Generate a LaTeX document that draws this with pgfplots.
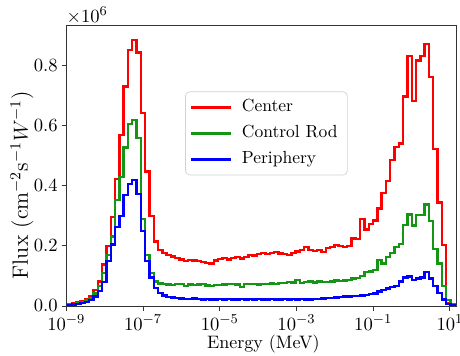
\documentclass[border=0pt]{standalone}
\usepackage{pgfplots}
\pgfplotsset{compat=1.18}
\usepackage{pgfplotstable}

\definecolor{mgreen}{RGB}{20,150,20}

% lx = log10(E / MeV) of the left bin edge; c = Center, r = Control Rod, p = Periphery (x 10^6)
\pgfplotstableread{
lx c r p
-9.075 0.004 0.003 0.002
-8.963 0.006 0.005 0.003
-8.851 0.009 0.007 0.005
-8.739 0.012 0.010 0.007
-8.626 0.016 0.014 0.010
-8.514 0.022 0.018 0.014
-8.402 0.033 0.026 0.020
-8.290 0.053 0.042 0.032
-8.178 0.081 0.067 0.050
-8.066 0.138 0.109 0.080
-7.954 0.200 0.170 0.150
-7.842 0.297 0.231 0.205
-7.730 0.423 0.353 0.262
-7.618 0.569 0.430 0.300
-7.505 0.730 0.528 0.370
-7.393 0.852 0.606 0.405
-7.281 0.886 0.619 0.419
-7.169 0.843 0.558 0.372
-7.057 0.643 0.290 0.250
-6.945 0.447 0.170 0.150
-6.833 0.300 0.109 0.095
-6.721 0.214 0.081 0.060
-6.609 0.186 0.075 0.043
-6.497 0.176 0.073 0.035
-6.384 0.170 0.072 0.030
-6.272 0.165 0.070 0.028
-6.160 0.160 0.073 0.026
-6.048 0.155 0.073 0.025
-5.936 0.150 0.067 0.024
-5.824 0.154 0.072 0.024
-5.712 0.151 0.070 0.025
-5.600 0.150 0.072 0.023
-5.488 0.147 0.073 0.022
-5.376 0.144 0.068 0.023
-5.263 0.142 0.066 0.022
-5.151 0.152 0.070 0.022
-5.039 0.157 0.069 0.023
-4.927 0.159 0.071 0.022
-4.815 0.155 0.073 0.023
-4.703 0.160 0.074 0.022
-4.591 0.162 0.072 0.022
-4.479 0.158 0.064 0.023
-4.367 0.163 0.073 0.022
-4.255 0.170 0.074 0.023
-4.142 0.168 0.073 0.022
-4.030 0.172 0.072 0.023
-3.918 0.176 0.074 0.022
-3.806 0.174 0.074 0.022
-3.694 0.177 0.075 0.023
-3.582 0.180 0.074 0.021
-3.470 0.175 0.076 0.022
-3.358 0.172 0.076 0.023
-3.246 0.170 0.079 0.022
-3.134 0.177 0.078 0.023
-3.021 0.181 0.087 0.022
-2.909 0.186 0.076 0.023
-2.797 0.197 0.079 0.021
-2.685 0.186 0.082 0.022
-2.573 0.183 0.078 0.024
-2.461 0.186 0.081 0.024
-2.349 0.180 0.079 0.025
-2.237 0.192 0.080 0.026
-2.125 0.197 0.081 0.027
-2.013 0.203 0.085 0.028
-1.900 0.200 0.084 0.030
-1.788 0.197 0.085 0.031
-1.676 0.200 0.087 0.032
-1.564 0.225 0.092 0.033
-1.452 0.222 0.094 0.034
-1.340 0.290 0.100 0.035
-1.228 0.255 0.114 0.037
-1.116 0.273 0.115 0.040
-1.004 0.284 0.120 0.042
-0.892 0.325 0.153 0.048
-0.779 0.375 0.142 0.053
-0.667 0.415 0.162 0.058
-0.555 0.486 0.177 0.064
-0.443 0.530 0.196 0.067
-0.331 0.541 0.207 0.081
-0.219 0.697 0.270 0.095
-0.107 0.832 0.305 0.098
0.005 0.683 0.268 0.087
0.117 0.817 0.302 0.092
0.229 0.832 0.302 0.095
0.342 0.871 0.338 0.114
0.454 0.763 0.282 0.092
0.566 0.522 0.190 0.067
0.678 0.344 0.142 0.044
0.790 0.203 0.067 0.022
0.902 0.010 0.020 0.007
1.014 0.005 0.006 0.003
1.126 0.002 0.002 0.001
1.238 0.002 0.002 0.001
}\fluxdata

\begin{document}
\begin{tikzpicture}
\begin{axis}[
  name=ax,
  scale only axis,
  width=229.5pt, height=165.1pt,
  xmin=-9, xmax=1.17, ymin=0, ymax=0.934,
  xtick={-9,-7,-5,-3,-1,1},
  xticklabels={$10^{-9}$,$10^{-7}$,$10^{-5}$,$10^{-3}$,$10^{-1}$,$10^{1}$},
  ytick={0,0.2,0.4,0.6,0.8},
  yticklabels={$0.0$,$0.2$,$0.4$,$0.6$,$0.8$},
  xtick pos=lower, ytick pos=left,
  tick align=outside,
  major tick length=2.8pt,
  tick style={black!80, line width=0.5pt},
  axis line style={black!80, line width=0.5pt},
  tick label style={font=\fontsize{11}{13}\selectfont},
  xticklabel style={yshift=1pt},
  yticklabel style={xshift=1.2pt},
  xlabel={Energy (MeV)},
  ylabel={Flux (cm$^{-2}$s$^{-1}W^{-1}$)},
  xlabel style={at={(axis description cs:0.505,-0.1355)}, anchor=center,
    font=\fontsize{10.6}{12}\selectfont},
  ylabel style={at={(axis description cs:-0.1137,0.431)}, anchor=center,
    font=\fontsize{13}{15}\selectfont},
  legend cell align=left,
  legend style={at={(0.513,0.615)}, anchor=center, draw=black!18,
    rounded corners=2.5pt, fill=white, fill opacity=0.8, text opacity=1,
    row sep=0pt, inner xsep=2.8pt, inner ysep=1.5pt,
    font=\fontsize{10.3}{12}\selectfont,
    nodes={text height=7pt, text depth=2pt, inner ysep=3.15pt, inner xsep=3pt}},
  legend image code/.code={\draw[#1] (0pt,0pt) -- (23.5pt,0pt); \path (26pt,0pt);},
]
\addplot[red, line width=1.4pt, const plot mark left] table[x=lx, y=c]{\fluxdata};
\addlegendentry{Center}
\addplot[mgreen, line width=1.4pt, const plot mark left] table[x=lx, y=r]{\fluxdata};
\addlegendentry{Control Rod}
\addplot[blue, line width=1.4pt, const plot mark left] table[x=lx, y=p]{\fluxdata};
\addlegendentry{Periphery}
\end{axis}
\node[anchor=south west, inner sep=0pt, yshift=0.8pt, font=\fontsize{11}{13}\selectfont] at (ax.north west) {$\times10^{6}$};
\pgfresetboundingbox
\path[use as bounding box] ([xshift=-39pt, yshift=-29.4pt]ax.south west) rectangle ++(270.6pt,209.4pt);
\end{tikzpicture}
\end{document}
